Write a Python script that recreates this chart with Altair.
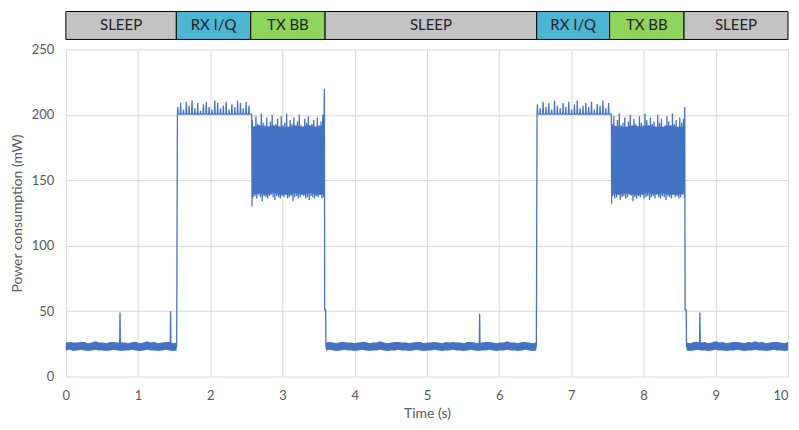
import altair as alt
import numpy as np
import pandas as pd

# ---------------- phase bar ----------------
PHASES = ["SLEEP", "RX I/Q", "TX BB", "SLEEP", "RX I/Q", "TX BB", "SLEEP"]
PHASE_START = [0.0, 1.53, 2.56, 3.59, 6.52, 7.53, 8.56]
PHASE_END = [1.53, 2.56, 3.59, 6.52, 7.53, 8.56, 10.0]
PHASE_NAMES = ["SLEEP", "RX I/Q", "TX BB"]
PHASE_COLORS = ["#c3c3c3", "#4db6d3", "#8fd45c"]

# ---------------- power trace (mW) ----------------
PRE_T = [0.0, 0.745, 0.75, 0.755, 1.445, 1.45, 1.455, 1.535]
PRE_V = [23, 23, 49, 23, 23, 50, 23, 23]

RX1_RANGE = (1.545, 2.57)
RX1_PEAKS = [206, 209, 204, 210, 207, 211, 205, 209, 203, 208,
             210, 206, 204, 211, 209, 205, 207, 210, 204, 208,
             206, 211, 209, 205, 210, 207]
RX2_RANGE = (6.525, 7.55)
RX2_PEAKS = [208, 205, 210, 206, 209, 204, 211, 207, 205, 209,
             206, 210, 204, 208, 211, 205, 207, 209, 206, 210,
             204, 208, 207, 211, 205, 209]
RX_BASE = 200.5

MID1_T = [2.574, 2.578]
MID1_V = [200, 130]

TX1_RANGE = (2.582, 3.57)
TX1_HI = [196, 191, 199, 193, 190, 201, 194, 192, 198, 190,
          195, 200, 191, 193, 197, 189, 199, 192, 194, 201,
          190, 196, 193, 198, 191, 195, 200, 192, 190, 197,
          194, 199, 191, 193, 196, 190, 198, 192, 195, 200]
TX1_LO = [137, 138, 136, 139, 137, 134, 138, 137, 136, 138,
          139, 137, 135, 138, 137, 136, 138, 137, 139, 136,
          137, 138, 134, 137, 138, 136, 137, 139, 138, 136,
          137, 135, 138, 137, 136, 138, 137, 139, 136, 137]

POST1_T = [3.576, 3.58, 3.584, 3.597, 3.602, 5.725, 5.73, 5.735, 6.515]
POST1_V = [196, 220, 51, 51, 23, 23, 48, 23, 23]

MID2_T = [7.554, 7.558]
MID2_V = [200, 132]

TX2_RANGE = (7.562, 8.565)
TX2_HI = [193, 199, 190, 196, 201, 192, 194, 198, 190, 195,
          200, 191, 197, 193, 189, 199, 194, 192, 201, 196,
          190, 198, 193, 195, 191, 200, 194, 197, 190, 192,
          199, 195, 191, 201, 193, 196, 190, 198, 194, 197]
TX2_LO = [138, 136, 137, 139, 135, 137, 138, 136, 137, 139,
          138, 134, 137, 136, 138, 137, 139, 136, 137, 138,
          135, 137, 138, 136, 139, 137, 136, 138, 137, 135,
          138, 137, 136, 139, 137, 138, 136, 137, 139, 136]

POST2_T = [8.57, 8.575, 8.59, 8.595, 8.775, 8.78, 8.785, 10.0]
POST2_V = [206, 51, 51, 23, 23, 49, 23, 23]

# ---------------- noise envelopes (mW) ----------------
S1_RANGE = (0.0, 1.535)
S1_LO = [20, 20.5, 19.5, 20, 20.5, 20, 19.5, 20, 20.5, 20, 20, 19.5, 20, 20.5, 20,
         19.5, 20, 20, 20.5, 20, 19.5, 20, 20.5, 20, 20, 19.5, 20, 20.5, 20, 19.5, 20]
S1_HI = [26, 26.5, 26, 26, 26.5, 26.5, 25.5, 26, 27, 26, 26, 25.5, 26.5, 26.5, 26,
         26, 26, 25.5, 26.5, 26.5, 25.5, 26, 27, 26, 26.5, 25.5, 26, 26.5, 26.5, 25.5, 26]
S2_RANGE = (3.60, 6.515)
S2_LO = [20, 20.5, 20, 19.5, 20, 20.5, 20, 20, 19.5, 20,
         20.5, 20, 19.5, 20, 20, 20.5, 20, 19.5, 20, 20,
         20.5, 20, 20, 19.5, 20, 20.5, 20, 19.5, 20, 20,
         20.5, 20, 19.5, 20, 20, 20.5, 20, 20, 19.5, 20,
         20.5, 20, 19.5, 20, 20, 20.5, 20, 19.5, 20, 20,
         20.5, 20, 20, 19.5, 20, 20.5, 20, 19.5, 20]
S2_HI = [26, 26.5, 26, 25.5, 26.5, 26.5, 26, 26, 25.5, 26,
         26.5, 26.5, 25.5, 26, 26, 27, 26, 25.5, 26, 26.5,
         26.5, 26, 26, 25.5, 26, 26.5, 26.5, 25.5, 26, 26,
         26.5, 26, 25.5, 26.5, 26, 26.5, 26, 26, 25.5, 26.5,
         26.5, 26, 25.5, 26, 26.5, 26.5, 26, 25.5, 26, 26,
         27, 26, 26, 25.5, 26.5, 26.5, 26, 25.5, 26]
S3_RANGE = (8.595, 10.0)
S3_LO = [20, 19.5, 20, 20.5, 20, 20, 19.5, 20, 20.5, 20,
         20, 19.5, 20, 20, 20.5, 20, 19.5, 20, 20, 20.5,
         20, 20, 19.5, 20, 20.5, 20, 20, 19.5, 20]
S3_HI = [26, 25.5, 26.5, 26.5, 26, 26.5, 25.5, 26, 27, 26,
         26.5, 25.5, 26, 26.5, 26.5, 26, 25.5, 26.5, 26, 27,
         26, 26.5, 25.5, 26, 26.5, 26.5, 26, 25.5, 26.5]
T1_CORE_LO = [139, 140, 139, 140, 139, 139, 140, 139, 140, 139, 139]
T1_CORE_HI = [191, 192, 191, 192, 191, 191, 192, 191, 192, 191, 192]
T2_CORE_LO = [140, 139, 140, 139, 139, 140, 139, 140, 139, 139, 140]
T2_CORE_HI = [192, 191, 191, 192, 191, 192, 191, 191, 192, 191, 191]

BLUE = "#4472c4"
FONT = "Lato"

# ---------------- build tables ----------------
def interleave(a, b):
    out = []
    for x, y in zip(a, b):
        out += [x, y]
    return out


def spikes(rng, peaks, base):
    t_out, v_out = [], []
    step = (rng[1] - rng[0]) / len(peaks)
    for k, p in enumerate(peaks):
        t0 = rng[0] + k * step
        t_out += [t0, t0 + 0.005, t0 + 0.01]
        v_out += [base, p, base]
    t_out.append(rng[1]); v_out.append(base)
    return t_out, v_out


ts, vs = [], []
ts += PRE_T; vs += PRE_V
a, b = spikes(RX1_RANGE, RX1_PEAKS, RX_BASE); ts += a; vs += b
ts += MID1_T; vs += MID1_V
tx1 = interleave(TX1_HI, TX1_LO)
ts += list(np.linspace(TX1_RANGE[0], TX1_RANGE[1], len(tx1))); vs += tx1
ts += POST1_T; vs += POST1_V
a, b = spikes(RX2_RANGE, RX2_PEAKS, RX_BASE); ts += a; vs += b
ts += MID2_T; vs += MID2_V
tx2 = interleave(TX2_HI, TX2_LO)
ts += list(np.linspace(TX2_RANGE[0], TX2_RANGE[1], len(tx2))); vs += tx2
ts += POST2_T; vs += POST2_V
trace = pd.DataFrame({"t": ts, "v": vs, "i": range(len(ts))})

rows = []
for seg, (rng, lo, hi) in enumerate([(S1_RANGE, S1_LO, S1_HI),
                                     (S2_RANGE, S2_LO, S2_HI),
                                     (S3_RANGE, S3_LO, S3_HI),
                                     (TX1_RANGE, T1_CORE_LO, T1_CORE_HI),
                                     (TX2_RANGE, T2_CORE_LO, T2_CORE_HI)]):
    pairs = list(zip(lo, hi))
    for tt, (l, h) in zip(np.linspace(rng[0], rng[1], len(pairs)), pairs):
        rows.append({"seg": seg, "t": tt, "lo": l, "hi": h})
band = pd.DataFrame(rows)

phase_df = pd.DataFrame({
    "phase": PHASES, "start": PHASE_START, "end": PHASE_END,
    "mid": [(p + q) / 2 for p, q in zip(PHASE_START, PHASE_END)],
})

W = 724
xs = alt.Scale(domain=[0, 10], nice=False)
ys = alt.Scale(domain=[0, 250], nice=False)

rects = alt.Chart(phase_df).mark_rect(stroke="black", strokeWidth=1).encode(
    x=alt.X("start:Q", scale=xs, axis=None),
    x2="end:Q",
    y=alt.value(0), y2=alt.value(28),
    color=alt.Color("phase:N", scale=alt.Scale(domain=PHASE_NAMES, range=PHASE_COLORS), legend=None),
)
texts = alt.Chart(phase_df).mark_text(font=FONT, fontSize=15, color="#222222").encode(
    x=alt.X("mid:Q", scale=xs, axis=None),
    y=alt.value(14),
    text="phase:N",
)
top = (rects + texts).properties(width=W, height=28)

xaxis = alt.Axis(
    values=list(range(11)), title="Time (s)", format="d",
    labelAlign={"condition": {"test": "datum.value === 10", "value": "right"}, "value": "center"},
)
yaxis = alt.Axis(values=[0, 50, 100, 150, 200, 250], title="Power consumption (mW)")

area = alt.Chart(band).mark_area(color=BLUE, opacity=1).encode(
    x=alt.X("t:Q", scale=xs, axis=xaxis),
    y=alt.Y("lo:Q", scale=ys, axis=yaxis),
    y2="hi:Q",
    detail="seg:N",
)
line = alt.Chart(trace).mark_line(color=BLUE, strokeWidth=1.3).encode(
    x=alt.X("t:Q", scale=xs, axis=xaxis),
    y=alt.Y("v:Q", scale=ys, axis=yaxis),
    order="i:Q",
)
main = (area + line).properties(width=W, height=328)

chart = alt.vconcat(top, main, spacing=3).properties(
    padding={"left": 2, "top": 2, "right": 0, "bottom": 0}
).configure_view(stroke=None).configure_axis(
    grid=True, gridColor="#d9d9d9", gridWidth=1,
    domain=False, ticks=False, tickSize=0,
    labelFont=FONT, labelFontSize=13, labelColor="#595959",
    titleFont=FONT, titleFontSize=14, titleFontWeight="normal", titleColor="#595959",
).configure_axisX(labelPadding=13, titlePadding=4).configure_axisY(labelPadding=12, titlePadding=7)

chart.save("out.html", embed_options={"renderer": "svg", "actions": False})
